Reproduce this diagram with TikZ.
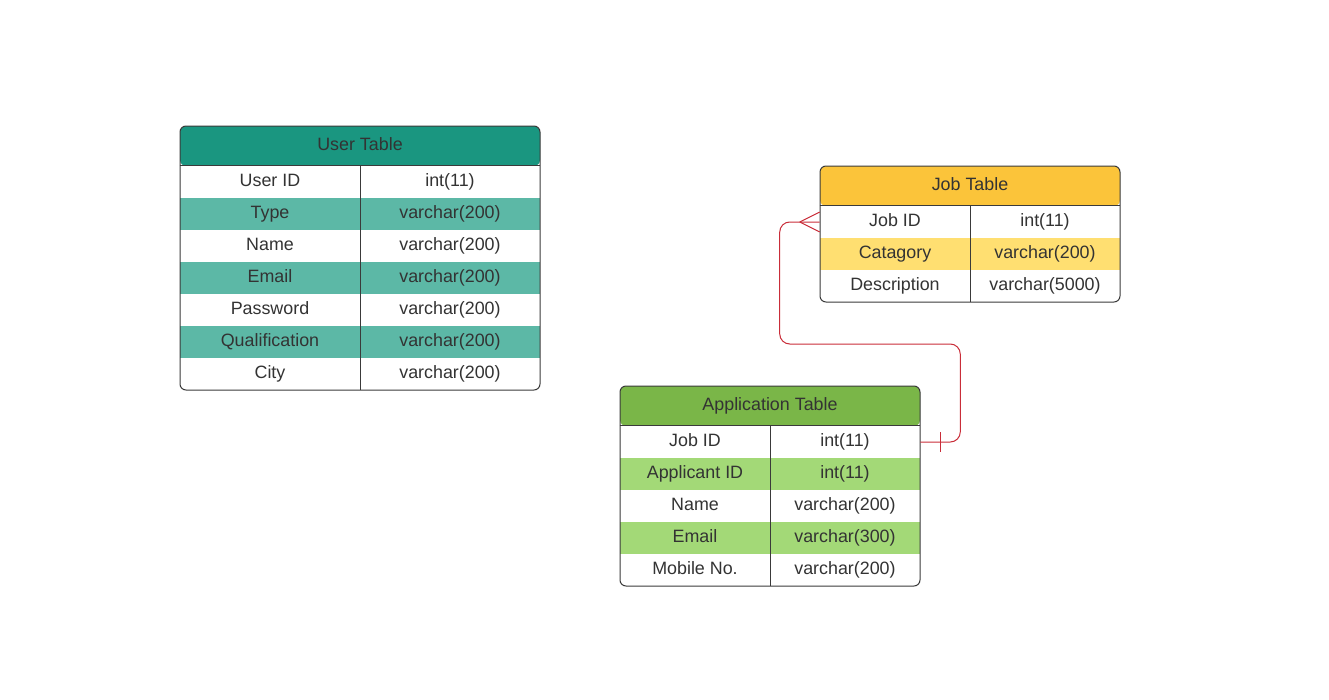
\documentclass[tikz,border=0pt]{standalone}
\usepackage{fontspec}
\setmainfont{Liberation Sans}
\usetikzlibrary{calc}
\definecolor{txt}{HTML}{333333}
\definecolor{edge}{HTML}{3A3A3A}
\definecolor{uhead}{HTML}{1A9680}
\definecolor{ustripe}{HTML}{5CB8A6}
\definecolor{jhead}{HTML}{FBC43A}
\definecolor{jstripe}{HTML}{FFDF71}
\definecolor{ahead}{HTML}{7AB648}
\definecolor{astripe}{HTML}{A3D977}
\definecolor{rel}{HTML}{C92D39}
\tikzset{
  cell/.style={minimum height=24pt, inner sep=0pt, text=txt,
    text height=9.6pt, text depth=2.6pt,
    font=\fontsize{13.4}{16}\selectfont},
  ucell/.style={cell, minimum width=135pt},
  jcell/.style={cell, minimum width=112.5pt},
  headtext/.style={cell},
  frame/.style={draw=edge, line width=0.75pt, rounded corners=4.5pt},
  rule/.style={draw=edge, line width=0.75pt},
  relline/.style={draw=rel, line width=0.75pt},
}
\begin{document}
\begin{tikzpicture}[x=0.75pt,y=-0.75pt]
\useasboundingbox (0,0) rectangle (1329,700);

% ---------- User Table ----------
\fill[uhead, rounded corners=4.5pt] (180,166) -- (180,126) -- (540,126) -- (540,166) -- cycle;
\node[headtext] (uh) at (360,146) {User Table};
\foreach [count=\i] \a/\b in {User ID/int(11), Type/varchar(200), Name/varchar(200),
    Email/varchar(200), Password/varchar(200), Qualification/varchar(200), City/varchar(200)} {
  \pgfmathtruncatemacro\odd{mod(\i,2)}
  \ifnum\odd=0 \def\cf{ustripe}\else\def\cf{white}\fi
  \pgfmathsetmacro\yc{166+32*(\i-1)+16}
  \node[ucell, fill=\cf] (u\i a) at (270,\yc) {\a};
  \node[ucell, fill=\cf] (u\i b) at (450,\yc) {\b};
}
\draw[rule] (u1a.north west) -- (u1b.north east);
\draw[rule] (u1a.north east) -- (u7a.south east);
\draw[frame] (180,126) rectangle (540,390);

% ---------- Job Table ----------
\fill[jhead, rounded corners=4.5pt] (820,206) -- (820,166) -- (1120,166) -- (1120,206) -- cycle;
\node[headtext] (jh) at (970,186) {Job Table};
\foreach [count=\i] \a/\b in {Job ID/int(11), Catagory/varchar(200), Description/varchar(5000)} {
  \pgfmathtruncatemacro\odd{mod(\i,2)}
  \ifnum\odd=0 \def\cf{jstripe}\else\def\cf{white}\fi
  \pgfmathsetmacro\yc{206+32*(\i-1)+16}
  \node[jcell, fill=\cf] (j\i a) at (895,\yc) {\a};
  \node[jcell, fill=\cf] (j\i b) at (1045,\yc) {\b};
}
\draw[rule] (j1a.north west) -- (j1b.north east);
\draw[rule] (j1a.north east) -- (j3a.south east);
\draw[frame] (820,166) rectangle (1120,302);

% ---------- Application Table ----------
\fill[ahead, rounded corners=4.5pt] (620,426) -- (620,386) -- (920,386) -- (920,426) -- cycle;
\node[headtext] (ah) at (770,406) {Application Table};
\foreach [count=\i] \a/\b in {Job ID/int(11), Applicant ID/int(11), Name/varchar(200),
    Email/varchar(300), Mobile No./varchar(200)} {
  \pgfmathtruncatemacro\odd{mod(\i,2)}
  \ifnum\odd=0 \def\cf{astripe}\else\def\cf{white}\fi
  \pgfmathsetmacro\yc{426+32*(\i-1)+16}
  \node[jcell, fill=\cf] (a\i a) at (695,\yc) {\a};
  \node[jcell, fill=\cf] (a\i b) at (845,\yc) {\b};
}
\draw[rule] (a1a.north west) -- (a1b.north east);
\draw[rule] (a1a.north east) -- (a5a.south east);
\draw[frame] (620,386) rectangle (920,586);

% ---------- Relationship: Application.Job ID -> Job.Job ID ----------
\draw[relline, rounded corners=7.5pt] (a1b.east) -- ++(40,0) -- ++(0,-98)
  -| ($(j1a.west)+(-40,0)$) -- (j1a.west);
% one (bar) at the application end
\draw[relline] ($(a1b.east)+(20,-10)$) -- ($(a1b.east)+(20,10)$);
% many (crow's foot) at the job end
\draw[relline] ($(j1a.west)+(-20,0)$) -- ($(j1a.west)+(0,-10)$);
\draw[relline] ($(j1a.west)+(-20,0)$) -- ($(j1a.west)+(0,10)$);
\end{tikzpicture}
\end{document}
